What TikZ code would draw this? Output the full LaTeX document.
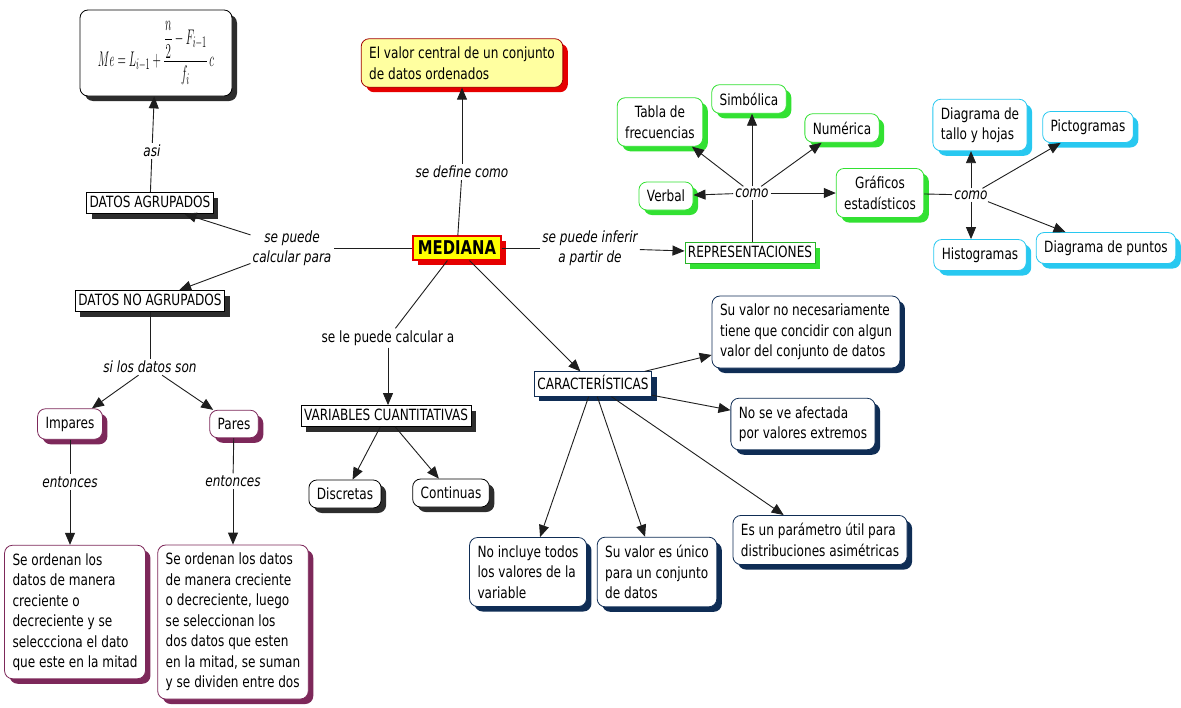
\documentclass[tikz,border=0pt]{standalone}
\usepackage[no-math]{fontspec}
\usepackage{graphicx}
\setmainfont{DejaVu Sans}[FakeStretch=0.78]
\usetikzlibrary{arrows.meta,shadows}

\definecolor{plum}{RGB}{125,40,90}
\definecolor{navy}{RGB}{15,45,85}
\definecolor{leaf}{RGB}{50,225,50}
\definecolor{sky}{RGB}{40,200,240}
\definecolor{redc}{RGB}{230,0,0}
\definecolor{yel}{RGB}{255,255,0}
\definecolor{paleyel}{RGB}{255,255,160}
\definecolor{shade}{RGB}{45,45,45}
\definecolor{wire}{RGB}{30,30,30}

\newcommand\fs{\fontsize{15.5}{20.5}\selectfont}

\tikzset{
  base/.style={font=\fs, line width=0.8pt, align=left},
  rbox/.style={base, rounded corners=8pt, draw=#1, fill=white, inner xsep=8pt, inner ysep=8pt,
    general shadow={fill=#1, shadow xshift=5pt, shadow yshift=-5pt}},
  sbox/.style={base, draw=#1, fill=white, inner xsep=3pt, inner ysep=3pt,
    text height=11.5pt, text depth=3.5pt,
    general shadow={fill=#1, shadow xshift=5pt, shadow yshift=-5pt}},
  lab/.style={font=\fs\itshape, align=center, inner sep=2pt},
  ln/.style={draw=wire, line width=0.9pt},
  arr/.style={ln, -{Triangle[length=12pt,width=10pt]}},
}

\begin{document}
\begin{tikzpicture}[x=1pt,y=-1pt]
\useasboundingbox[fill=white] (0,0) rectangle (1181,707);

% central concept and definition
\node[base, font=\fontsize{19}{20}\selectfont\bfseries, draw=redc, fill=yel, line width=1.2pt,
  inner xsep=5pt, inner ysep=5pt,
  general shadow={fill=redc, shadow xshift=5pt, shadow yshift=-5pt}] (med) at (457,248) {MEDIANA};
\node[rbox=redc, fill=paleyel, draw=redc!70!black] (def) at (462,63)
  {El valor central de un conjunto\\de datos ordenados};
\node[lab] (define) at (462,172) {se define como};

% grouped / ungrouped data branch
\node[rbox=shade, draw=black, minimum width=152pt, minimum height=86pt, inner xsep=2pt] (formula) at (156,53)
  {\resizebox*{116pt}{64pt}{$\displaystyle Me = L_{i-1} + \frac{\displaystyle\frac{n}{2} - F_{i-1}}{f_i}\,c$}};
\node[lab] (asi) at (152,151) {asi};
\node[sbox=shade, draw=black] (dag) at (150,203) {DATOS AGRUPADOS};
\node[lab] (calc) at (292,248) {se puede\\calcular para};
\node[sbox=shade, draw=black] (dna) at (150,301) {DATOS NO AGRUPADOS};
\node[lab] (silos) at (150,367) {si los datos son};
\node[rbox=plum] (imp) at (70,424) {Impares};
\node[rbox=plum] (par) at (234,424) {Pares};
\node[lab] (ent1) at (70,482) {entonces};
\node[lab] (ent2) at (233,481) {entonces};
\node[rbox=plum] (impt) at (75,612)
  {Se ordenan los\\datos de manera\\creciente o\\decreciente y se\\seleccciona el dato\\que este en la mitad};
\node[rbox=plum] (part) at (233,622)
  {Se ordenan los datos\\de manera creciente\\o decreciente, luego\\se seleccionan los\\dos datos que esten\\en la mitad, se suman\\y se dividen entre dos};

% representations branch
\node[lab] (inferir) at (590,248) {se puede inferir\\a partir de};
\node[sbox=leaf, draw=leaf!80!black] (rep) at (750,253) {REPRESENTACIONES};
\node[lab] (como1) at (752,193) {como};
\node[rbox=leaf] (verbal) at (666,196) {Verbal};
\node[rbox=leaf, align=center] (tabla) at (660,122) {Tabla de\\frecuencias};
\node[rbox=leaf] (simb) at (749,99) {Simbólica};
\node[rbox=leaf] (num) at (842,128) {Numérica};
\node[rbox=leaf, align=center] (graf) at (880,193) {Gráficos\\estadísticos};
\node[lab] (como2) at (971,195) {como};
\node[rbox=sky] (tallo) at (980,125) {Diagrama de\\tallo y hojas};
\node[rbox=sky] (picto) at (1088,127) {Pictogramas};
\node[rbox=sky] (hist) at (980,255) {Histogramas};
\node[rbox=sky] (puntos) at (1106,248) {Diagrama de puntos};

% quantitative variables branch
\node[lab, font=\fs] (lepuede) at (388,338) {se le puede calcular a};
\node[sbox=shade, draw=black] (vc) at (386,416) {VARIABLES CUANTITATIVAS};
\node[rbox=shade, draw=black] (disc) at (345,494) {Discretas};
\node[rbox=shade, draw=black] (cont) at (451,493) {Continuas};

% characteristics branch
\node[sbox=navy, text height=15pt] (car) at (593,384) {CARACTERÍSTICAS};
\node[rbox=navy] (sv1) at (806,332) {Su valor no necesariamente\\tiene que concidir con algun\\valor del conjunto de datos};
\node[rbox=navy] (noaf) at (803,424) {No se ve afectada\\por valores extremos};
\node[rbox=navy] (param) at (820,540) {Es un parámetro útil para\\distribuciones asimétricas};
\node[rbox=navy] (noinc) at (528,572) {No incluye todos\\los valores de la\\variable};
\node[rbox=navy] (unico) at (657,572) {Su valor es único\\para un conjunto\\de datos};

% connectors
\draw[ln] (med) -- (define);
\draw[arr] (define) -- (def);

\draw[ln] (dag) -- (asi);
\draw[arr] (asi) -- (formula);
\draw[ln] (med) -- (calc);
\draw[arr] (calc) -- (dag);
\draw[arr] (calc) -- (dna);
\draw[ln] (dna) -- (silos);
\draw[arr] (silos) -- (imp);
\draw[arr] (silos) -- (par);
\draw[ln] (imp) -- (ent1);
\draw[arr] (ent1) -- (impt.north -| ent1);
\draw[ln] (par) -- (ent2);
\draw[arr] (ent2) -- (part.north -| ent2);

\draw[ln] (med) -- (inferir);
\draw[arr] (inferir) -- (rep);
\draw[ln] (rep.north -| como1) -- (como1);
\draw[arr] (como1) -- (verbal);
\draw[arr] (como1) -- (tabla);
\draw[arr] (como1) -- (simb.south -| como1);
\draw[arr] (como1) -- (num);
\draw[arr] (como1) -- (graf);
\draw[ln] (graf) -- (como2);
\draw[arr] (como2) -- (tallo.south -| como2);
\draw[arr] (como2) -- (picto);
\draw[arr] (como2) -- (hist.north -| como2);
\draw[arr] (como2) -- (puntos);

\draw[ln] (med) -- (lepuede);
\draw[arr] (lepuede) -- (vc.north -| lepuede);
\draw[arr] (vc) -- (disc);
\draw[arr] (vc) -- (cont);

\draw[arr] (med) -- (car);
\draw[arr] (car) -- (sv1);
\draw[arr] (car) -- (noaf);
\draw[arr] (car) -- (param);
\draw[arr] (car) -- (noinc);
\draw[arr] (car) -- (unico);
\end{tikzpicture}
\end{document}
